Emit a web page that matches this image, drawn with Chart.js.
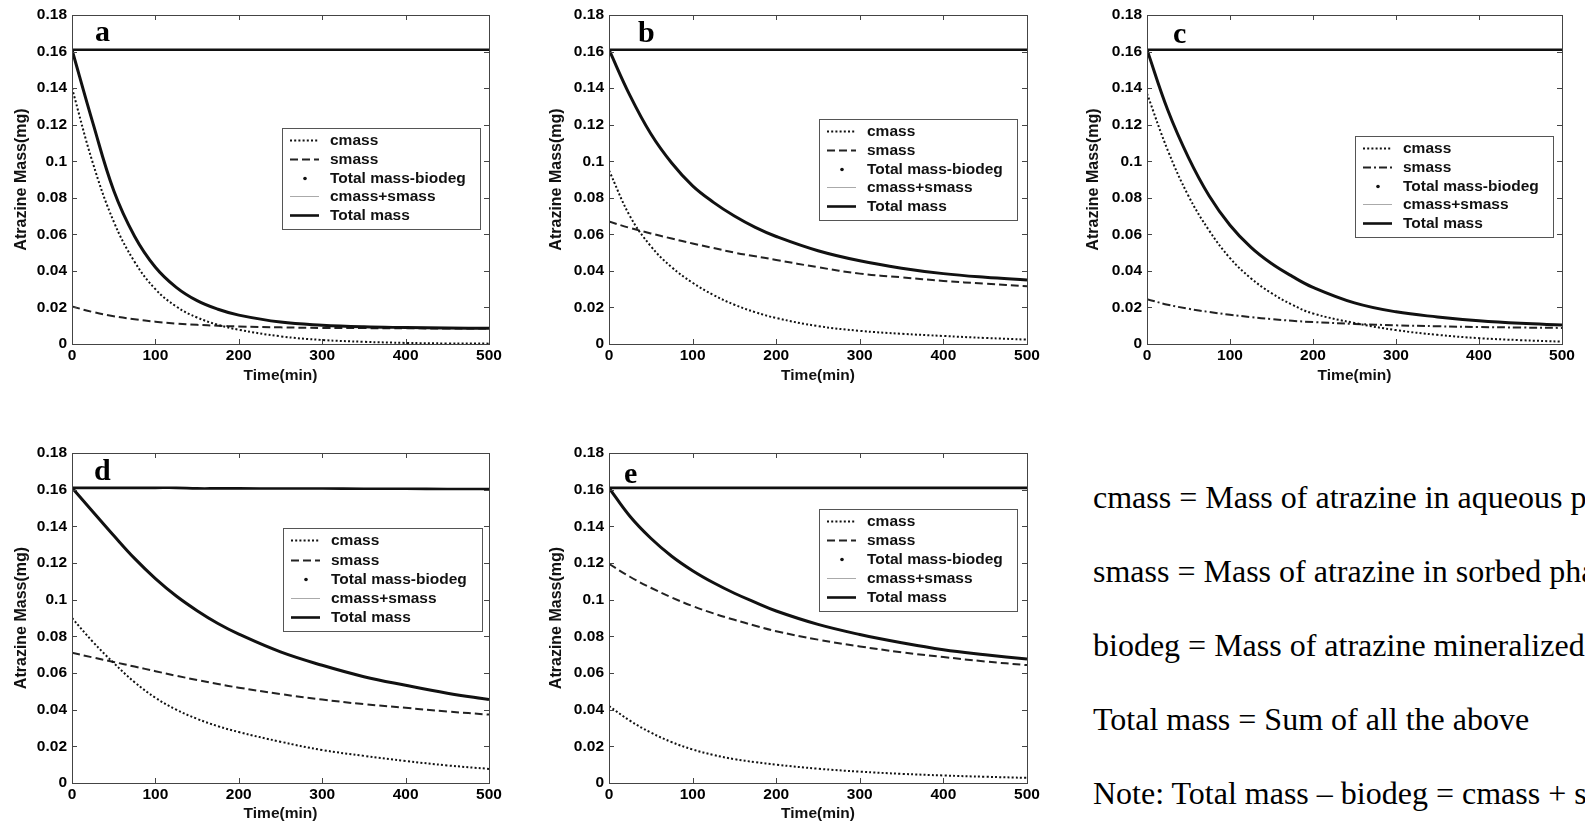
<!DOCTYPE html>
<html>
<head>
<meta charset="utf-8">
<script src="https://cdn.jsdelivr.net/npm/chart.js@4.4.1/dist/chart.umd.min.js"></script>
<style>
  html, body { margin: 0; padding: 0; background: #fff; width: 1585px; height: 827px; overflow: hidden; }
  canvas { position: absolute; }
  #notes {
    position: absolute; left: 1093px; top: 460px;
    font-family: "Liberation Serif", "Times New Roman", serif;
    font-size: 32px; line-height: 74px; white-space: nowrap; color: #000;
  }
</style>
</head>
<body>
<canvas id="pa" width="510" height="395"></canvas>
<canvas id="pb" width="510" height="395"></canvas>
<canvas id="pc" width="513" height="395"></canvas>
<canvas id="pd" width="510" height="395"></canvas>
<canvas id="pe" width="510" height="395"></canvas>
<div id="notes">
  <div>cmass = Mass of atrazine in aqueous phase</div>
  <div>smass = Mass of atrazine in sorbed phase</div>
  <div>biodeg = Mass of atrazine mineralized</div>
  <div>Total mass = Sum of all the above</div>
  <div>Note: Total mass – biodeg = cmass + smass</div>
</div>
<script>
// ── data (mg vs minutes) ──
const timeMin = [0, 25, 50, 75, 100, 125, 150, 175, 200, 250, 300, 350, 400, 450, 500];
const xTicks = [0, 100, 200, 300, 400, 500];
const xTickLabels = ['0', '100', '200', '300', '400', '500'];
const yTicks = [0, 0.02, 0.04, 0.06, 0.08, 0.1, 0.12, 0.14, 0.16, 0.18];
const yTickLabels = ['0', '0.02', '0.04', '0.06', '0.08', '0.1', '0.12', '0.14', '0.16', '0.18'];
const seriesNames = ['cmass', 'smass', 'Total mass-biodeg', 'cmass+smass', 'Total mass'];

// panel a
const cmassA  = [0.140, 0.099, 0.067, 0.045, 0.030, 0.0205, 0.0145, 0.0105, 0.0078, 0.0042, 0.0022, 0.0012, 0.0006, 0.0003, 0.0002];
const smassA  = [0.0205, 0.0175, 0.0152, 0.0135, 0.0122, 0.0112, 0.0105, 0.0100, 0.0096, 0.0091, 0.0088, 0.0087, 0.0086, 0.0085, 0.0085];
const remainA = [0.161, 0.121, 0.084, 0.059, 0.042, 0.031, 0.0237, 0.019, 0.0158, 0.0120, 0.0103, 0.0094, 0.0090, 0.0087, 0.0086];
const totalA  = [0.161, 0.161, 0.161, 0.161, 0.161, 0.161, 0.161, 0.161, 0.161, 0.161, 0.161, 0.161, 0.161, 0.161, 0.161];
// panel b
const cmassB  = [0.095, 0.070, 0.0535, 0.042, 0.0335, 0.0268, 0.0215, 0.0174, 0.0142, 0.0098, 0.0072, 0.0056, 0.0044, 0.0033, 0.0024];
const smassB  = [0.067, 0.0635, 0.0605, 0.0577, 0.055, 0.0525, 0.050, 0.048, 0.046, 0.042, 0.0385, 0.0365, 0.0345, 0.033, 0.0316];
const remainB = [0.161, 0.136, 0.115, 0.099, 0.0865, 0.0775, 0.0700, 0.0638, 0.0588, 0.051, 0.0455, 0.0415, 0.0385, 0.0365, 0.035];
const totalB  = [0.161, 0.161, 0.161, 0.161, 0.161, 0.161, 0.161, 0.161, 0.161, 0.161, 0.161, 0.161, 0.161, 0.161, 0.161];
// panel c
const cmassC  = [0.137, 0.106, 0.081, 0.062, 0.047, 0.036, 0.0278, 0.0215, 0.0167, 0.0115, 0.0076, 0.005, 0.0032, 0.0021, 0.0013];
const smassC  = [0.0245, 0.0215, 0.0193, 0.0175, 0.016, 0.0147, 0.0136, 0.0127, 0.012, 0.011, 0.0102, 0.0097, 0.0093, 0.009, 0.0088];
const remainC = [0.161, 0.128, 0.102, 0.081, 0.065, 0.053, 0.044, 0.037, 0.031, 0.0225, 0.0176, 0.0148, 0.0127, 0.0113, 0.0104];
const totalC  = [0.161, 0.161, 0.161, 0.161, 0.161, 0.161, 0.161, 0.161, 0.161, 0.161, 0.161, 0.161, 0.161, 0.161, 0.161];
// panel d
const cmassD  = [0.090, 0.077, 0.0655, 0.055, 0.0465, 0.040, 0.035, 0.031, 0.0278, 0.0225, 0.018, 0.0148, 0.012, 0.0096, 0.0077];
const smassD  = [0.071, 0.0685, 0.066, 0.0635, 0.061, 0.0585, 0.0562, 0.054, 0.052, 0.0485, 0.0455, 0.043, 0.041, 0.039, 0.0373];
const remainD = [0.161, 0.148, 0.135, 0.1225, 0.1115, 0.102, 0.094, 0.087, 0.0812, 0.0715, 0.0642, 0.058, 0.0533, 0.049, 0.0455];
const totalD  = [0.161, 0.161, 0.161, 0.161, 0.161, 0.161, 0.1607, 0.1607, 0.1607, 0.1606, 0.1606, 0.1605, 0.1605, 0.1604, 0.1604];
// panel e
const cmassE  = [0.042, 0.034, 0.0275, 0.0223, 0.0183, 0.0153, 0.013, 0.0114, 0.010, 0.0078, 0.0062, 0.005, 0.0041, 0.0034, 0.0028];
const smassE  = [0.1195, 0.1125, 0.1065, 0.1012, 0.0965, 0.0925, 0.089, 0.0858, 0.0828, 0.0782, 0.0745, 0.0713, 0.0687, 0.0663, 0.0643];
const remainE = [0.161, 0.1455, 0.1335, 0.1237, 0.1158, 0.1092, 0.1035, 0.0985, 0.0938, 0.0865, 0.081, 0.0765, 0.0727, 0.070, 0.0676];
const totalE  = [0.161, 0.161, 0.161, 0.161, 0.161, 0.161, 0.161, 0.161, 0.161, 0.161, 0.161, 0.161, 0.161, 0.161, 0.161];

// ── layout per panel (canvas box, axis sizes, legend box inside plot area) ──
const panels = [
  { id: 'pa', letter: 'a', left: 0,    top: 0,   yW: 72, padR: 21, padT: 15, xH: 51, dash: [8, 4],
    legend: { x: 210, y: 113, w: 198, h: 101 }, lp: { x: 23, y: 26 },
    cmass: cmassA, smass: smassA, remain: remainA, total: totalA },
  { id: 'pb', letter: 'b', left: 535,  top: 0,   yW: 74, padR: 18, padT: 15, xH: 51, dash: [8, 4],
    legend: { x: 210, y: 104, w: 198, h: 101 }, lp: { x: 29, y: 27 },
    cmass: cmassB, smass: smassB, remain: remainB, total: totalB },
  { id: 'pc', letter: 'c', left: 1072, top: 0,   yW: 75, padR: 23, padT: 15, xH: 51, dash: [8, 3, 2, 3],
    legend: { x: 208, y: 121, w: 198, h: 101 }, lp: { x: 26, y: 28 },
    cmass: cmassC, smass: smassC, remain: remainC, total: totalC },
  { id: 'pd', letter: 'd', left: 0,    top: 438, yW: 72, padR: 21, padT: 15, xH: 50, dash: [8, 4],
    legend: { x: 211, y: 75, w: 199, h: 103 }, lp: { x: 22, y: 27 },
    cmass: cmassD, smass: smassD, remain: remainD, total: totalD },
  { id: 'pe', letter: 'e', left: 535,  top: 438, yW: 74, padR: 18, padT: 15, xH: 50, dash: [8, 4],
    legend: { x: 210, y: 56, w: 198, h: 102 }, lp: { x: 15, y: 30 },
    cmass: cmassE, smass: smassE, remain: remainE, total: totalE }
];

const SANS = '"Liberation Sans", Arial, sans-serif';
const pts = arr => timeMin.map((t, i) => ({ x: t, y: arr[i] }));

// Frame, inward tick marks, the boxed legend and the panel letter (MATLAB look)
const matlabBox = {
  id: 'matlabBox',
  afterDatasetsDraw(chart, args, opts) {
    const { ctx, chartArea: ca, scales } = chart;
    ctx.save();
    ctx.strokeStyle = '#444';
    ctx.lineWidth = 1;
    ctx.beginPath();
    yTicks.forEach(v => {
      const py = Math.round(scales.y.getPixelForValue(v)) + 0.5;
      ctx.moveTo(ca.left, py); ctx.lineTo(ca.left + 5, py);
      ctx.moveTo(ca.right - 5, py); ctx.lineTo(ca.right, py);
    });
    xTicks.forEach(v => {
      const px = Math.round(scales.x.getPixelForValue(v)) + 0.5;
      ctx.moveTo(px, ca.bottom); ctx.lineTo(px, ca.bottom - 5);
      ctx.moveTo(px, ca.top); ctx.lineTo(px, ca.top + 5);
    });
    ctx.stroke();
    ctx.strokeRect(Math.round(ca.left) + 0.5, Math.round(ca.top) + 0.5,
      Math.round(ca.right - ca.left), Math.round(ca.bottom - ca.top));

    // legend
    const lg = opts.legend;
    const bx = Math.round(ca.left + lg.x), by = Math.round(ca.top + lg.y);
    ctx.fillStyle = '#fff';
    ctx.fillRect(bx, by, lg.w, lg.h);
    ctx.strokeStyle = '#555';
    ctx.strokeRect(bx + 0.5, by + 0.5, lg.w, lg.h);
    ctx.font = 'bold 15.5px ' + SANS;
    ctx.textBaseline = 'middle';
    ctx.textAlign = 'left';
    chart.data.datasets.forEach((ds, i) => {
      const cy = Math.round(by + lg.h * 0.12 + i * lg.h * 0.186) + 0.5;
      if (ds.legendDot) {
        ctx.fillStyle = '#111';
        ctx.beginPath(); ctx.arc(bx + 23, cy, 1.8, 0, Math.PI * 2); ctx.fill();
      } else {
        ctx.strokeStyle = ds.borderColor;
        ctx.lineWidth = ds.borderWidth;
        ctx.setLineDash(ds.borderDash || []);
        ctx.beginPath(); ctx.moveTo(bx + 8, cy); ctx.lineTo(bx + 37, cy); ctx.stroke();
        ctx.setLineDash([]);
      }
      ctx.fillStyle = '#111';
      ctx.fillText(ds.label, bx + 48, cy);
    });

    // panel letter
    ctx.font = 'bold 30px "Liberation Serif", "Times New Roman", serif';
    ctx.textBaseline = 'alphabetic';
    ctx.fillStyle = '#000';
    ctx.fillText(opts.letter, ca.left + opts.lp.x, ca.top + opts.lp.y);
    ctx.restore();
  }
};

panels.forEach(p => {
  const canvas = document.getElementById(p.id);
  canvas.style.left = p.left + 'px';
  canvas.style.top = p.top + 'px';
  new Chart(canvas, {
    type: 'line',
    data: {
      datasets: [
        { label: seriesNames[0], data: pts(p.cmass), borderColor: '#111', borderWidth: 2, borderDash: [2, 2.2], order: 3 },
        { label: seriesNames[1], data: pts(p.smass), borderColor: '#222', borderWidth: 2, borderDash: p.dash, order: 4 },
        { label: seriesNames[2], data: pts(p.remain), borderColor: '#111', borderWidth: 3, order: 1, legendDot: true },
        { label: seriesNames[3], data: pts(p.remain), borderColor: '#aaa', borderWidth: 1, order: 2 },
        { label: seriesNames[4], data: pts(p.total), borderColor: '#111', borderWidth: 2.6, order: 5 }
      ]
    },
    options: {
      responsive: false,
      animation: false,
      events: [],
      layout: { padding: { left: 0, right: p.padR, top: p.padT, bottom: 0 } },
      elements: {
        point: { radius: 0 },
        line: { tension: 0.4, fill: false }
      },
      plugins: {
        legend: { display: false },
        tooltip: { enabled: false },
        matlabBox: { legend: p.legend, letter: p.letter, lp: p.lp }
      },
      scales: {
        x: {
          type: 'linear', min: 0, max: 500,
          afterBuildTicks: s => { s.ticks = xTicks.map(v => ({ value: v })); },
          afterFit: s => { s.height = p.xH; },
          grid: { display: false, drawTicks: false },
          border: { display: false },
          ticks: {
            autoSkip: false, maxRotation: 0, padding: 2, color: '#000',
            font: { family: SANS, size: 15.5, weight: 'bold' },
            callback: v => xTickLabels[xTicks.indexOf(v)]
          },
          title: {
            display: true, text: 'Time(min)', color: '#111',
            font: { family: SANS, size: 15.5, weight: 'bold' },
            padding: { top: 0, bottom: 10 }
          }
        },
        y: {
          type: 'linear', min: 0, max: 0.18,
          afterBuildTicks: s => { s.ticks = yTicks.map(v => ({ value: v })); },
          afterFit: s => { s.width = p.yW; },
          grid: { display: false, drawTicks: false },
          border: { display: false },
          ticks: {
            autoSkip: false, padding: 5, color: '#000',
            font: { family: SANS, size: 15.5, weight: 'bold' },
            callback: v => yTickLabels[Math.round(v / 0.02)]
          },
          title: {
            display: true, text: 'Atrazine Mass(mg)', color: '#111',
            font: { family: SANS, size: 16, weight: 'bold' },
            padding: { top: 12, bottom: 0 }
          }
        }
      }
    },
    plugins: [matlabBox]
  });
});
</script>
</body>
</html>
